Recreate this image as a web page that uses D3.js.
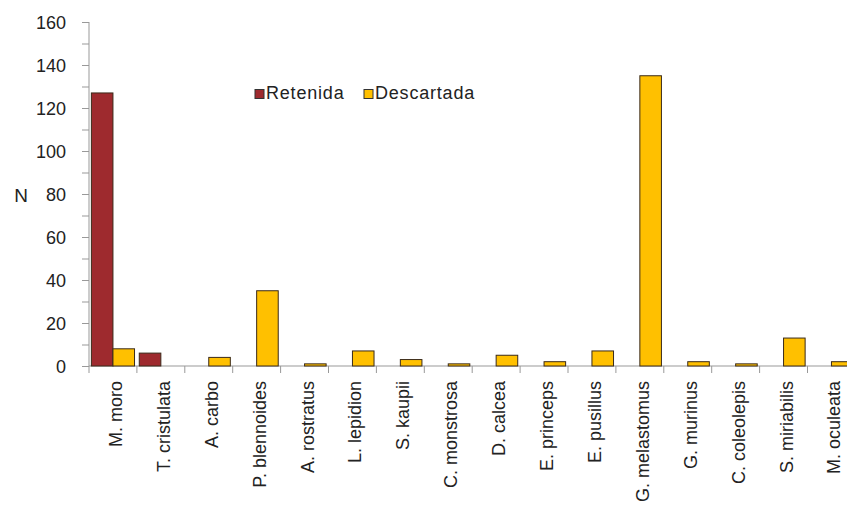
<!DOCTYPE html>
<html><head><meta charset="utf-8">
<script src="https://cdn.jsdelivr.net/npm/d3@7"></script>
<style>body{margin:0;background:#fff}svg{display:block}</style>
</head><body>
<script>
const categories = ["M. moro","T. cristulata","A. carbo","P. blennoides","A. rostratus","L. lepidion","S. kaupii","C. monstrosa","D. calcea","E. princeps","E. pusillus","G. melastomus","G. murinus","C. coleolepis","S. miriabilis","M. oculeata"];
const retenida   = [127, 6, 0, 0, 0, 0, 0, 0, 0, 0, 0, 0, 0, 0, 0, 0];
const descartada = [8, 0, 4, 35, 1, 7, 3, 1, 5, 2, 7, 135, 2, 1, 13, 2];
const seriesNames = ["Retenida","Descartada"];
const colors = ["#9E2A2E","#FFC000"];
const yTicks = [0,20,40,60,80,100,120,140,160];

const W = 847, H = 512;
const FONT = "Liberation Sans, Arial, sans-serif";
const svg = d3.select("body").append("svg").attr("width", W).attr("height", H);
const x0 = 89, bandW = 47.9;
const x = d3.scaleBand().domain(categories).range([x0, x0 + bandW*categories.length]).paddingInner(0).paddingOuter(0);
const xs = d3.scaleBand().domain(seriesNames).range([0, x.bandwidth()]).paddingInner(0).paddingOuter(0.11);
const y = d3.scaleLinear().domain([0,160]).range([366, 22]);

// y axis
const yAxis = d3.axisLeft(y).tickValues(d3.range(0,161,10)).tickSize(7)
  .tickFormat(d => yTicks.includes(d) ? d : "");
const gy = svg.append("g").attr("transform", `translate(${x0},0)`).call(yAxis);
gy.select(".domain").attr("stroke","#999").attr("d", `M-0,${y(160)}V${y(0)}`);
gy.selectAll(".tick line").attr("stroke","#999");
gy.selectAll(".tick text").attr("font-family",FONT).attr("font-size",18).attr("fill","#222").attr("x",-23).attr("dy","0.38em");

svg.append("text").attr("x",21).attr("y",202).attr("text-anchor","middle")
  .attr("font-family",FONT).attr("font-size",19).attr("fill","#222").text("N");

// x axis
const gx = svg.append("g").attr("transform", `translate(0,${y(0)})`);
gx.append("line").attr("x1",x0).attr("x2",W).attr("stroke","#999");
gx.selectAll("line.tk").data(categories.concat(["_end"])).join("line").attr("class","tk")
  .attr("x1",(d,i)=>x0+i*bandW).attr("x2",(d,i)=>x0+i*bandW).attr("y1",0).attr("y2",7).attr("stroke","#999");

// bars
const data = categories.map((c,i)=>({c, vals:[retenida[i], descartada[i]]}));
const g = svg.append("g");
data.forEach(d=>{
  d.vals.forEach((v,k)=>{
    if (v <= 0) return;
    g.append("rect")
      .attr("x", x(d.c) + xs(seriesNames[k]))
      .attr("y", y(v))
      .attr("width", xs.bandwidth())
      .attr("height", y(0)-y(v))
      .attr("fill", colors[k]).attr("stroke","#3a2a1a").attr("stroke-width",1);
  });
});

// x labels
svg.append("g").selectAll("text").data(categories).join("text")
  .attr("transform", d=>`translate(${x(d)+x.bandwidth()/2+9},381) rotate(-90)`)
  .attr("text-anchor","end")
  .attr("font-family",FONT).attr("font-size",18).attr("fill","#222")
  .text(d=>d);

// legend
const leg = svg.append("g").attr("font-family",FONT).attr("font-size",18).attr("fill","#222").attr("letter-spacing","0.8");
const legX = [255, 364];
seriesNames.forEach((s,k)=>{
  leg.append("rect").attr("x",legX[k]).attr("y",89.5).attr("width",9).attr("height",9)
    .attr("fill",colors[k]).attr("stroke","#333").attr("stroke-width",1);
  leg.append("text").attr("x",legX[k]+11).attr("y",99).text(s);
});
</script>
</body></html>
